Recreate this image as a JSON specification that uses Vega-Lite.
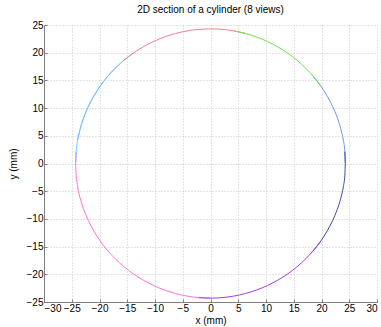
{
  "$schema": "https://vega.github.io/schema/vega-lite/v6.json",
  "autosize": "none",
  "width": 333,
  "height": 277,
  "padding": {"left": 44, "top": 25, "right": 4, "bottom": 25},
  "background": "white",
  "title": {"text": "2D section of a cylinder (8 views)", "font": "Liberation Sans", "fontSize": 10, "fontWeight": "normal", "color": "black", "offset": 5},
  "config": {
    "view": {"stroke": null},
    "axis": {
      "labelFont": "Liberation Sans", "labelFontSize": 10, "labelColor": "black",
      "titleFont": "Liberation Sans", "titleFontSize": 10, "titleFontWeight": "normal", "titleColor": "black",
      "gridColor": "#c8c8c8", "gridDash": [1, 2], "gridWidth": 1, "gridOpacity": 1,
      "domainColor": "#808080", "tickColor": "#808080", "tickSize": -3
    }
  },
  "data": {"values": [
    {"view": "7", "t": 130, "x": -15.62, "y": 18.61},
    {"view": "7", "t": 135, "x": -17.18, "y": 17.18},
    {"view": "7", "t": 140, "x": -18.61, "y": 15.62},
    {"view": "7", "t": 145, "x": -19.91, "y": 13.94},
    {"view": "7", "t": 150, "x": -21.04, "y": 12.15},
    {"view": "7", "t": 155, "x": -22.02, "y": 10.27},
    {"view": "7", "t": 160, "x": -22.83, "y": 8.31},
    {"view": "7", "t": 165, "x": -23.47, "y": 6.29},
    {"view": "7", "t": 170, "x": -23.93, "y": 4.22},

    {"view": "6", "t": -185, "x": -24.21, "y": 2.12},
    {"view": "6", "t": -180, "x": -24.3, "y": 0},
    {"view": "6", "t": -175, "x": -24.21, "y": -2.12},
    {"view": "6", "t": -170, "x": -23.93, "y": -4.22},
    {"view": "6", "t": -165, "x": -23.47, "y": -6.29},
    {"view": "6", "t": -160, "x": -22.83, "y": -8.31},
    {"view": "6", "t": -155, "x": -22.02, "y": -10.27},
    {"view": "6", "t": -150, "x": -21.04, "y": -12.15},
    {"view": "6", "t": -145, "x": -19.91, "y": -13.94},
    {"view": "6", "t": -140, "x": -18.61, "y": -15.62},
    {"view": "6", "t": -135, "x": -17.18, "y": -17.18},
    {"view": "6", "t": -130, "x": -15.62, "y": -18.61},
    {"view": "6", "t": -125, "x": -13.94, "y": -19.91},
    {"view": "6", "t": -120, "x": -12.15, "y": -21.04},
    {"view": "6", "t": -115, "x": -10.27, "y": -22.02},
    {"view": "6", "t": -110, "x": -8.31, "y": -22.83},
    {"view": "6", "t": -105, "x": -6.29, "y": -23.47},
    {"view": "6", "t": -100, "x": -4.22, "y": -23.93},
    {"view": "6", "t": -95, "x": -2.12, "y": -24.21},
    {"view": "6", "t": -90, "x": 0, "y": -24.3},

    {"view": "8", "t": 125, "x": -13.94, "y": 19.91},
    {"view": "8", "t": 130, "x": -15.62, "y": 18.61},
    {"view": "8", "t": 135, "x": -17.18, "y": 17.18},
    {"view": "8", "t": 140, "x": -18.61, "y": 15.62},
    {"view": "8", "t": 145, "x": -19.91, "y": 13.94},
    {"view": "8", "t": 150, "x": -21.04, "y": 12.15},
    {"view": "8", "t": 155, "x": -22.02, "y": 10.27},
    {"view": "8", "t": 160, "x": -22.83, "y": 8.31},
    {"view": "8", "t": 165, "x": -23.47, "y": 6.29},
    {"view": "8", "t": 170, "x": -23.93, "y": 4.22},
    {"view": "8", "t": 175, "x": -24.21, "y": 2.12},
    {"view": "8", "t": 180, "x": -24.3, "y": 0},

    {"view": "1", "t": 75, "x": 6.29, "y": 23.47},
    {"view": "1", "t": 80, "x": 4.22, "y": 23.93},
    {"view": "1", "t": 85, "x": 2.12, "y": 24.21},
    {"view": "1", "t": 90, "x": 0, "y": 24.3},
    {"view": "1", "t": 95, "x": -2.12, "y": 24.21},
    {"view": "1", "t": 100, "x": -4.22, "y": 23.93},
    {"view": "1", "t": 105, "x": -6.29, "y": 23.47},
    {"view": "1", "t": 110, "x": -8.31, "y": 22.83},
    {"view": "1", "t": 115, "x": -10.27, "y": 22.02},
    {"view": "1", "t": 120, "x": -12.15, "y": 21.04},
    {"view": "1", "t": 125, "x": -13.94, "y": 19.91},
    {"view": "1", "t": 130, "x": -15.62, "y": 18.61},

    {"view": "3", "t": 0, "x": 24.3, "y": 0},
    {"view": "3", "t": 5, "x": 24.21, "y": 2.12},
    {"view": "3", "t": 10, "x": 23.93, "y": 4.22},
    {"view": "3", "t": 15, "x": 23.47, "y": 6.29},
    {"view": "3", "t": 20, "x": 22.83, "y": 8.31},
    {"view": "3", "t": 25, "x": 22.02, "y": 10.27},
    {"view": "3", "t": 30, "x": 21.04, "y": 12.15},
    {"view": "3", "t": 35, "x": 19.91, "y": 13.94},
    {"view": "3", "t": 40, "x": 18.61, "y": 15.62},

    {"view": "2", "t": 35, "x": 19.91, "y": 13.94},
    {"view": "2", "t": 40, "x": 18.61, "y": 15.62},
    {"view": "2", "t": 45, "x": 17.18, "y": 17.18},
    {"view": "2", "t": 50, "x": 15.62, "y": 18.61},
    {"view": "2", "t": 55, "x": 13.94, "y": 19.91},
    {"view": "2", "t": 60, "x": 12.15, "y": 21.04},
    {"view": "2", "t": 65, "x": 10.27, "y": 22.02},
    {"view": "2", "t": 70, "x": 8.31, "y": 22.83},
    {"view": "2", "t": 75, "x": 6.29, "y": 23.47},
    {"view": "2", "t": 80, "x": 4.22, "y": 23.93},

    {"view": "4", "t": -40, "x": 18.61, "y": -15.62},
    {"view": "4", "t": -35, "x": 19.91, "y": -13.94},
    {"view": "4", "t": -30, "x": 21.04, "y": -12.15},
    {"view": "4", "t": -25, "x": 22.02, "y": -10.27},
    {"view": "4", "t": -20, "x": 22.83, "y": -8.31},
    {"view": "4", "t": -15, "x": 23.47, "y": -6.29},
    {"view": "4", "t": -10, "x": 23.93, "y": -4.22},
    {"view": "4", "t": -5, "x": 24.21, "y": -2.12},
    {"view": "4", "t": 0, "x": 24.3, "y": 0},
    {"view": "4", "t": 5, "x": 24.21, "y": 2.12},

    {"view": "5", "t": -95, "x": -2.12, "y": -24.21},
    {"view": "5", "t": -90, "x": 0, "y": -24.3},
    {"view": "5", "t": -85, "x": 2.12, "y": -24.21},
    {"view": "5", "t": -80, "x": 4.22, "y": -23.93},
    {"view": "5", "t": -75, "x": 6.29, "y": -23.47},
    {"view": "5", "t": -70, "x": 8.31, "y": -22.83},
    {"view": "5", "t": -65, "x": 10.27, "y": -22.02},
    {"view": "5", "t": -60, "x": 12.15, "y": -21.04},
    {"view": "5", "t": -55, "x": 13.94, "y": -19.91},
    {"view": "5", "t": -50, "x": 15.62, "y": -18.61},
    {"view": "5", "t": -45, "x": 17.18, "y": -17.18},
    {"view": "5", "t": -40, "x": 18.61, "y": -15.62},
    {"view": "5", "t": -35, "x": 19.91, "y": -13.94}
  ]},
  "mark": {"type": "line", "strokeWidth": 1, "interpolate": "monotone"},
  "encoding": {
    "x": {"field": "x", "type": "quantitative", "title": "x (mm)",
      "scale": {"domain": [-30, 30], "nice": false, "zero": false},
      "axis": {"values": [-30, -25, -20, -15, -10, -5, 0, 5, 10, 15, 20, 25, 30], "titlePadding": 2, "labelPadding": 4}},
    "y": {"field": "y", "type": "quantitative", "title": "y (mm)",
      "scale": {"domain": [-25, 25], "nice": false, "zero": false},
      "axis": {"values": [-25, -20, -15, -10, -5, 0, 5, 10, 15, 20, 25], "titlePadding": 8, "labelPadding": 4}},
    "color": {"field": "view", "type": "nominal", "legend": null,
      "scale": {"domain": ["1", "2", "3", "4", "5", "6", "7", "8"], "range": ["#f08090", "#70dd50", "#6b9be0", "#3a4aa0", "#a040e0", "#ff70d8", "#b0a0f0", "#66ccff"]}},
    "order": {"field": "t", "type": "quantitative"}
  }
}
